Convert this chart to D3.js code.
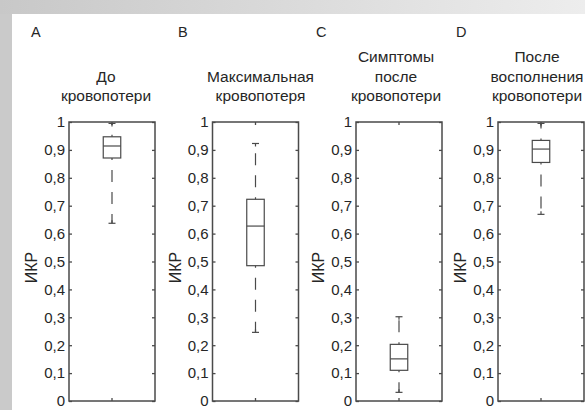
<!DOCTYPE html>
<html><head><meta charset="utf-8">
<script src="https://cdn.jsdelivr.net/npm/d3@7"></script>
<style>body{margin:0;background:#fff}svg{display:block}</style>
</head><body>
<script>
// ---- data ----
const panelLetters = ["A", "B", "C", "D"];
const panelTitles = [
  ["До", "кровопотери"],
  ["Максимальная", "кровопотеря"],
  ["Симптомы", "после", "кровопотери"],
  ["После", "восполнения", "кровопотери"]
];
const whiskerLow  = [0.637, 0.246, 0.031, 0.669];
const q1          = [0.871, 0.485, 0.110, 0.855];
const median      = [0.914, 0.627, 0.151, 0.903];
const q3          = [0.947, 0.723, 0.203, 0.934];
const whiskerHigh = [0.995, 0.923, 0.302, 0.995];
const yTicks = [0, 0.1, 0.2, 0.3, 0.4, 0.5, 0.6, 0.7, 0.8, 0.9, 1];
const yLabel = "ИКР";

// ---- layout ----
const W = 585, H = 410;
const boxLefts = [69, 212.5, 356, 498];
const titleDx = [-6, 5, -3, -4];
const letterX = [31, 178, 316, 456];
const axW = 86, axTop = 122, axBottom = 401;
const ink = "#4a4a4a", txt = "#262626";
const font = "'Liberation Sans', Arial, sans-serif";

const svg = d3.select("body").append("svg").attr("width", W).attr("height", H);
const defs = svg.append("defs");
const g = defs.append("linearGradient").attr("id", "bg").attr("x1", 0).attr("x2", 1).attr("y1", 0).attr("y2", 0);
g.append("stop").attr("offset", 0).attr("stop-color", "#c8c8c8");
g.append("stop").attr("offset", 1).attr("stop-color", "#ededed");
svg.append("rect").attr("width", W).attr("height", H).attr("fill", "url(#bg)");
svg.append("rect").attr("x", 0).attr("y", 14).attr("width", 12).attr("height", H - 14).attr("fill", "#cacaca");
svg.append("rect").attr("x", 12).attr("y", 14).attr("width", W - 12).attr("height", H - 14).attr("fill", "#fff");

const y = d3.scaleLinear().domain([0, 1]).range([axBottom, axTop]);

panelLetters.forEach((L, i) => {
  const x0 = boxLefts[i];
  const x = d3.scaleBand().domain([L]).range([x0, x0 + axW]);
  const cx = x(L) + x.bandwidth() / 2;
  const p = svg.append("g");

  // letter
  p.append("text").attr("x", letterX[i]).attr("y", 37).text(L)
    .attr("font-family", font).attr("font-size", 14.5).attr("fill", txt);

  // title (bottom aligned)
  const lines = panelTitles[i];
  lines.forEach((t, k) => {
    p.append("text").attr("x", cx + titleDx[i]).attr("y", 101 - (lines.length - 1 - k) * 19.5)
      .attr("text-anchor", "middle").text(t)
      .attr("font-family", font).attr("font-size", 15.5).attr("fill", txt);
  });

  // y axes (left labelled, ticks inside)
  const axL = p.append("g").attr("transform", `translate(${x0},0)`)
    .call(d3.axisLeft(y).tickValues(yTicks).tickSize(-3).tickPadding(4)
      .tickFormat(d => d3.format("~g")(d).replace(".", ",")));
  axL.select(".domain").remove();
  axL.selectAll("line").attr("stroke", ink).attr("stroke-width", 1.3);
  axL.selectAll("text").attr("font-family", font).attr("font-size", 15).attr("fill", txt);
  const axR = p.append("g").attr("transform", `translate(${x0 + axW},0)`)
    .call(d3.axisRight(y).tickValues(yTicks).tickSize(-3).tickFormat(""));
  axR.select(".domain").remove();
  axR.selectAll("line").attr("stroke", ink).attr("stroke-width", 1.3);
  // x ticks top & bottom
  const axB = p.append("g").attr("transform", `translate(0,${axBottom})`)
    .call(d3.axisBottom(x).tickSize(-3).tickFormat(""));
  axB.select(".domain").remove();
  axB.selectAll("line").attr("stroke", ink).attr("stroke-width", 1.3);
  const axT = p.append("g").attr("transform", `translate(0,${axTop})`)
    .call(d3.axisTop(x).tickSize(-3).tickFormat(""));
  axT.select(".domain").remove();
  axT.selectAll("line").attr("stroke", ink).attr("stroke-width", 1.3);

  // frame
  p.append("rect").attr("x", x0).attr("y", axTop).attr("width", axW).attr("height", axBottom - axTop)
    .attr("fill", "none").attr("stroke", ink).attr("stroke-width", 1.5);

  // y label
  p.append("text").attr("transform", `translate(${x0 - 32},${(axTop + axBottom) / 2 + 6}) rotate(-90)`)
    .attr("text-anchor", "middle").text(yLabel)
    .attr("font-family", font).attr("font-size", 16).attr("fill", txt);

  // boxplot
  const bw = 17.5, cw = 7;
  const wh = p.append("g").attr("stroke", ink).attr("stroke-width", 1.2).attr("fill", "none");
  // whiskers dashed
  wh.append("line").attr("x1", cx).attr("x2", cx).attr("y1", y(q1[i])).attr("y2", y(whiskerLow[i]))
    .attr("stroke-dasharray", "12,10").attr("stroke-dashoffset", -12);
  wh.append("line").attr("x1", cx).attr("x2", cx).attr("y1", y(q3[i])).attr("y2", y(whiskerHigh[i]))
    .attr("stroke-dasharray", "12,10").attr("stroke-dashoffset", -12);
  // caps
  [whiskerLow[i], whiskerHigh[i]].forEach(v => {
    wh.append("line").attr("x1", cx - cw / 2).attr("x2", cx + cw / 2).attr("y1", y(v)).attr("y2", y(v));
  });
  wh.append("line").attr("x1", cx).attr("x2", cx).attr("y1", y(whiskerLow[i])).attr("y2", y(whiskerLow[i]) - 3);
  wh.append("line").attr("x1", cx).attr("x2", cx).attr("y1", y(whiskerHigh[i])).attr("y2", y(whiskerHigh[i]) + 3);
  // box
  wh.append("rect").attr("x", cx - bw / 2).attr("y", y(q3[i])).attr("width", bw)
    .attr("height", y(q1[i]) - y(q3[i]));
  wh.append("line").attr("x1", cx - bw / 2).attr("x2", cx + bw / 2).attr("y1", y(median[i])).attr("y2", y(median[i]));
});
</script>
</body></html>
